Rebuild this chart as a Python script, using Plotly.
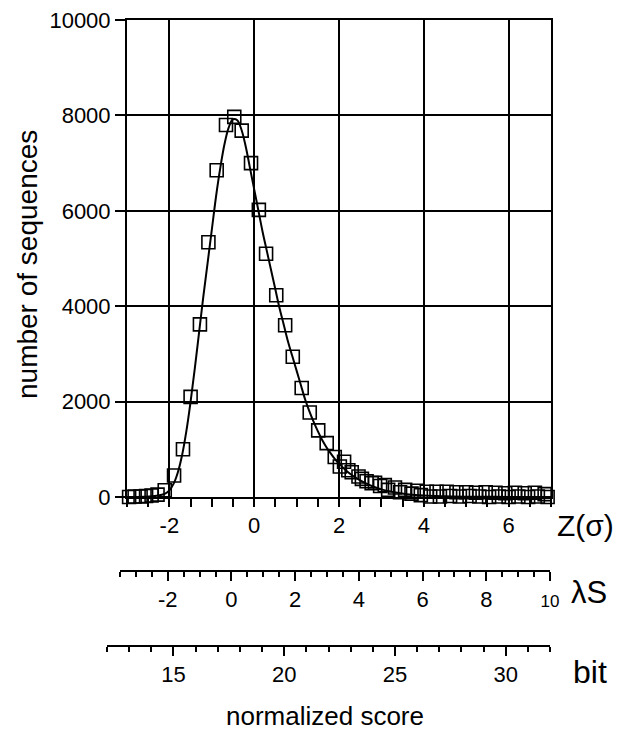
import plotly.graph_objects as go

# ---- data ----
z_obs = [-3.03, -2.95, -2.82, -2.68, -2.55, -2.42, -2.28, -2.11, -1.89, -1.68,
         -1.50, -1.28, -1.08, -0.885, -0.665, -0.47, -0.295, -0.075, 0.11, 0.28,
         0.52, 0.73, 0.91, 1.12, 1.31, 1.51, 1.71, 1.90, 2.02, 2.12,
         2.22, 2.30, 2.46, 2.54, 2.65, 2.77, 2.85, 2.97, 3.08, 3.16,
         3.32, 3.44, 3.56, 3.71, 3.85, 3.93, 4.07, 4.15, 4.30, 4.38,
         4.54, 4.62, 4.77, 4.85, 5.00, 5.08, 5.23, 5.31, 5.46, 5.54,
         5.69, 5.77, 5.92, 6.00, 6.15, 6.23, 6.38, 6.46, 6.62, 6.69,
         6.85, 6.92, 7.02]
n_obs = [460, 0, 10, 10, 20, 30, 50, 140, 450, 1000,
         2100, 3620, 5340, 6850, 7800, 7970, 7680, 7000, 6020, 5100,
         4230, 3600, 2940, 2285, 1770, 1396, 1130, 840, 640, 740,
         560, 520, 430, 380, 330, 290, 300, 230, 250, 150,
         200, 100, 150, 70, 130, 40, 110, 10, 110, 10,
         110, 20, 100, 10, 100, 20, 90, 10, 100, 0,
         90, 10, 80, 0, 90, 10, 80, 0, 90, 10,
         60, 0, 150]

z_fit = [-3.0, -2.6, -2.3, -2.1, -2.0, -1.9, -1.8, -1.7, -1.6, -1.5, -1.4, -1.3,
         -1.2, -1.1, -1.0, -0.9, -0.8, -0.7, -0.6, -0.5, -0.4, -0.3, -0.2, -0.1,
         0.0, 0.1, 0.2, 0.3, 0.4, 0.5, 0.6, 0.7, 0.8, 0.9, 1.0, 1.1, 1.2, 1.3,
         1.4, 1.5, 1.6, 1.7, 1.8, 1.9, 2.0, 2.2, 2.4, 2.6, 2.8, 3.0, 3.3, 3.6,
         4.0, 4.5, 5.0, 6.0, 7.0]
n_fit = [0, 5, 25, 70, 140, 280, 520, 880, 1380, 2000, 2700, 3450,
         4200, 4900, 5600, 6300, 6900, 7400, 7750, 7920, 7900, 7700, 7350, 6900,
         6450, 6000, 5550, 5150, 4750, 4350, 3950, 3600, 3250, 2950, 2650, 2350, 2050, 1800,
         1580, 1380, 1200, 1050, 920, 800, 700, 530, 400, 300, 220, 160, 100, 60,
         30, 15, 7, 2, 0]

z_ticks = [-2, 0, 2, 4, 6]
z_labels = ["-2", "0", "2", "4", "6"]
ls_ticks = [-2, 0, 2, 4, 6, 8, 10]
ls_labels = ["-2", "0", "2", "4", "6", "8", "<span style='font-size:17px'>10</span>"]
bit_ticks = [15, 20, 25, 30]
bit_labels = ["15", "20", "25", "30"]
y_ticks = [0, 2000, 4000, 6000, 8000, 10000]
y_labels = ["0", "2000", "4000", "6000", "8000", "10000"]

FONT = "Liberation Sans, Arial, Helvetica, sans-serif"
BLACK = "#000000"

# page body has an 8 px margin; layout is expressed in reference pixels shifted by it
OFF = 8
L, T = 100 - OFF, 20 - OFF
PW, PH = 500, 640           # paper width / height
B = 730 - T - PH
R = 640 - L - PW

def py_frac(py):            # reference pixel y -> paper fraction
    return (660 - py) / PH

def px_frac(px):            # reference pixel x -> paper fraction
    return (px - 100) / PW

fig = go.Figure()
fig.add_trace(go.Scatter(x=z_fit, y=n_fit, mode="lines", line=dict(color=BLACK, width=2, shape="spline"),
                         showlegend=False, hoverinfo="skip", cliponaxis=True))
fig.add_trace(go.Scatter(x=z_obs, y=n_obs, mode="markers",
                         marker=dict(symbol="square-open", size=13, color=BLACK, line=dict(color=BLACK, width=1.6)),
                         showlegend=False, cliponaxis=False))
# dummy traces to carry the extra score axes
fig.add_trace(go.Scatter(x=[-3.5, 10], y=[None, None], xaxis="x2", yaxis="y2", showlegend=False, hoverinfo="skip"))
fig.add_trace(go.Scatter(x=[12, 32], y=[None, None], xaxis="x3", yaxis="y3", showlegend=False, hoverinfo="skip"))

ydom0 = py_frac(497)
pos2 = py_frac(570)
pos3 = py_frac(645)

tickfont = dict(family=FONT, size=22, color=BLACK)

common = dict(automargin=False, ticklabeloverflow="allow", zeroline=False)

fig.update_layout(
    width=640, height=730,
    margin=dict(l=L, r=R, t=T, b=B, autoexpand=False),
    paper_bgcolor="white", plot_bgcolor="white",
    font=dict(family=FONT, color=BLACK),
    xaxis=dict(domain=[px_frac(127), px_frac(551)], range=[-3, 7], anchor="y",
               tickvals=z_ticks, ticktext=z_labels, tickfont=tickfont,
               ticks="outside", ticklen=8, tickwidth=1.5, tickcolor=BLACK,
               minor=dict(dtick=0.5, tick0=0, ticks="outside", ticklen=8, tickwidth=1.5, tickcolor=BLACK, showgrid=False),
               showgrid=True, gridcolor=BLACK, gridwidth=2,
               showline=True, linecolor=BLACK, linewidth=2, mirror=True, **common),
    yaxis=dict(domain=[ydom0, 1], range=[0, 10000], anchor="x",
               tickvals=y_ticks, ticktext=y_labels, tickfont=tickfont,
               ticks="outside", ticklen=10, tickwidth=1.5, tickcolor=BLACK,
               showgrid=True, gridcolor=BLACK, gridwidth=2,
               showline=True, linecolor=BLACK, linewidth=2, mirror=True, **common),
    xaxis2=dict(domain=[px_frac(120), px_frac(550)], range=[-3.5, 10], anchor="y2",
                tickvals=ls_ticks, ticktext=ls_labels, tickfont=tickfont,
                ticks="outside", ticklen=9, tickwidth=1.5, tickcolor=BLACK,
                minor=dict(dtick=0.5, tick0=0, ticks="outside", ticklen=5, tickwidth=1.5, tickcolor=BLACK, showgrid=False),
                showgrid=False, showline=True, linecolor=BLACK, linewidth=2, **common),
    yaxis2=dict(domain=[pos2, pos2 + 0.005], visible=False, showgrid=False, anchor="x2", automargin=False),
    xaxis3=dict(domain=[px_frac(107), px_frac(550)], range=[12, 32], anchor="y3",
                tickvals=bit_ticks, ticktext=bit_labels, tickfont=tickfont,
                ticks="outside", ticklen=9, tickwidth=1.5, tickcolor=BLACK,
                minor=dict(dtick=1, tick0=0, ticks="outside", ticklen=5, tickwidth=1.5, tickcolor=BLACK, showgrid=False),
                showgrid=False, showline=True, linecolor=BLACK, linewidth=2, **common),
    yaxis3=dict(domain=[pos3, pos3 + 0.005], visible=False, showgrid=False, anchor="x3", automargin=False),
)

ann = [
    ("number of sequences", 27, 265, 28, -90),
    ("normalized score", 325, 716, 26, 0),
    ("Z(σ)", 585, 525, 30, 0),
    ("λS", 589, 592, 31, 0),
    ("bit", 590, 672, 32, 0),
]
for text, px, py, size, ang in ann:
    fig.add_annotation(text=text, x=px_frac(px), y=py_frac(py), xref="paper", yref="paper",
                       showarrow=False, textangle=ang, xanchor="center", yanchor="middle",
                       font=dict(family=FONT, size=size, color=BLACK))

fig.write_html("out.html")
